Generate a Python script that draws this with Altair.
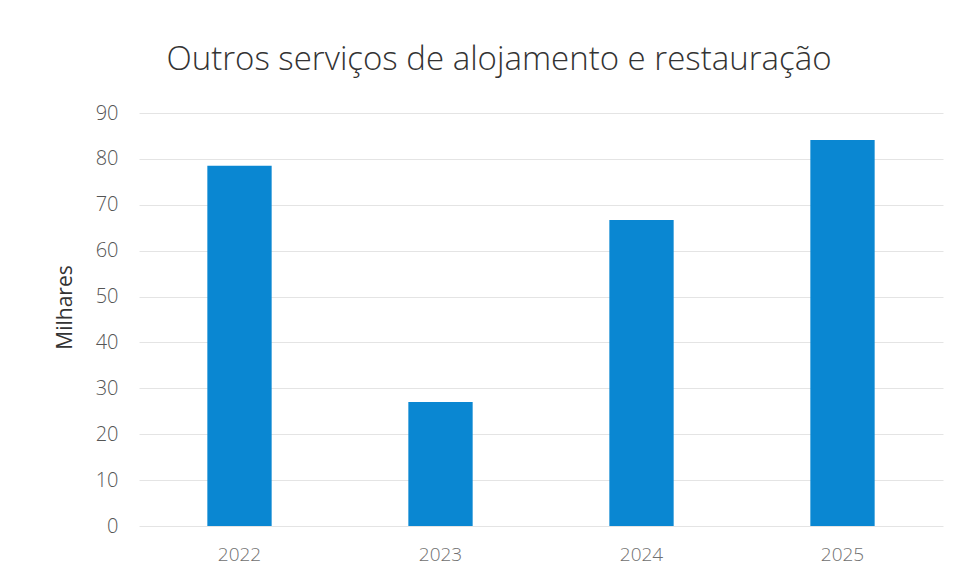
import altair as alt
import pandas as pd

years = ["2022", "2023", "2024", "2025"]
values = [78.5, 27.0, 66.7, 84.1]
y_ticks = [0, 10, 20, 30, 40, 50, 60, 70, 80, 90]

df = pd.DataFrame({"Ano": years, "Valor": values})

chart = alt.Chart(df).mark_bar(color="#0A87D2").encode(
    x=alt.X("Ano:N", sort=years,
            scale=alt.Scale(paddingInner=0.68, paddingOuter=0.34),
            axis=alt.Axis(title=None, labelAngle=0, ticks=False, domain=False,
                          labelFont="Open Sans", labelFontWeight=300,
                          labelFontSize=19, labelColor="#707070",
                          labelPadding=19, grid=False)),
    y=alt.Y("Valor:Q", scale=alt.Scale(domain=[0, 90], nice=False),
            axis=alt.Axis(values=y_ticks, title="Milhares", ticks=False,
                          domain=False, labelFont="Open Sans",
                          labelFontWeight=300, labelFontSize=20,
                          labelColor="#555555", labelPadding=21,
                          gridColor="#E4E4E4", gridWidth=1,
                          titleFont="Open Sans", titleFontWeight=400,
                          titleFontSize=21, titleColor="#333333",
                          titleX=-74, titleY=194, titleAngle=-90,
                          titleAlign="center", titleBaseline="middle")),
).properties(
    width=804,
    height=413,
    title=alt.TitleParams("Outros serviços de alojamento e restauração",
                          font="Open Sans", fontWeight=300, fontSize=33,
                          color="#333333", anchor="middle", dx=-42,
                          offset=26),
    autosize=alt.AutoSizeParams(type="none"),
    padding={"left": 131, "top": 105, "right": 10, "bottom": 40},
).configure_view(stroke=None)

chart.save("out.html", embed_options={"renderer": "svg", "actions": False})
